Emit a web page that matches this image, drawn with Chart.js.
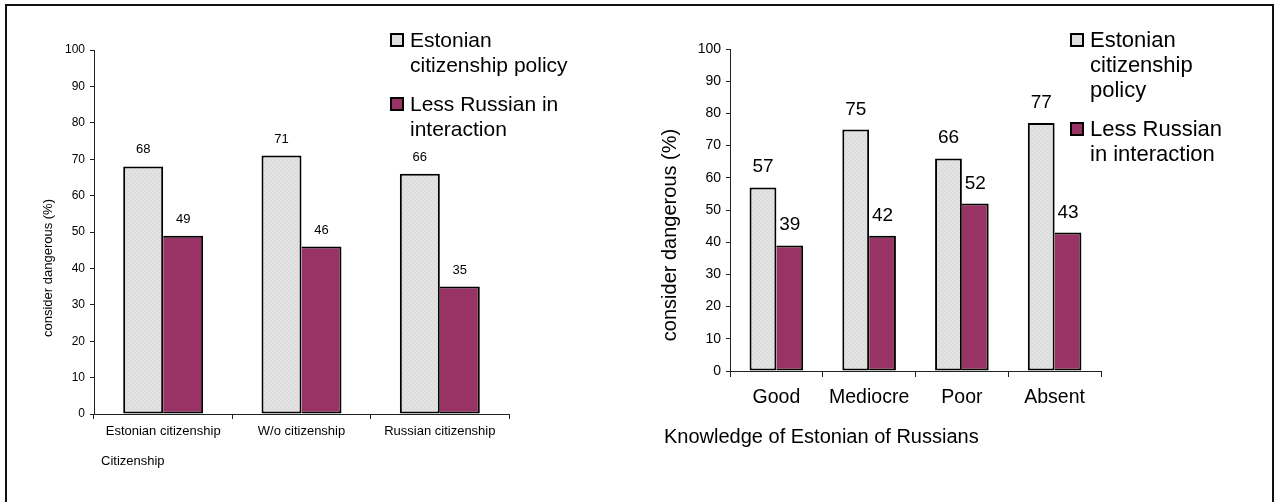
<!DOCTYPE html>
<html>
<head>
<meta charset="utf-8">
<script src="https://cdn.jsdelivr.net/npm/chart.js@4"></script>
<style>
  body { margin: 0; background: #fff; width: 1279px; height: 502px; overflow: hidden; position: relative; }
  #frame { position: absolute; left: 5px; top: 4px; width: 1265px; height: 520px; border: 2px solid #111; }
  canvas { position: absolute; top: 0; }
  #citizenship { left: 0; }
  #knowledge { left: 640px; }
</style>
</head>
<body>
<div id="frame"></div>
<canvas id="citizenship" width="640" height="502"></canvas>
<canvas id="knowledge" width="639" height="502"></canvas>
<script>
const seriesNames = ['Estonian citizenship policy', 'Less Russian in interaction'];

const citizenshipLabels = ['Estonian citizenship', 'W/o citizenship', 'Russian citizenship'];
const citizenshipPolicy = [68, 71, 66];
const citizenshipLessRussian = [49, 46, 35];

const knowledgeLabels = ['Good', 'Mediocre', 'Poor', 'Absent'];
const knowledgePolicy = [57, 75, 66, 77];
const knowledgeLessRussian = [39, 42, 52, 43];

const yMin = 0, yMax = 100, yStep = 10;

const FONT = '"Liberation Sans", Arial, sans-serif';
const PLUM = '#993366';

// light grey fill with a faint diagonal texture
function greyTexture() {
  const c = document.createElement('canvas');
  c.width = 4; c.height = 4;
  const g = c.getContext('2d');
  g.fillStyle = '#e3e3e3';
  g.fillRect(0, 0, 4, 4);
  g.fillStyle = '#d7d7d7';
  for (let i = 0; i < 4; i++) g.fillRect(i, 3 - i, 1, 1);
  return g.createPattern(c, 'repeat');
}
const greyFill = greyTexture();

function wrapText(ctx, text, maxWidth) {
  const lines = [];
  let line = '';
  text.split(' ').forEach(w => {
    const test = line ? line + ' ' + w : w;
    if (line && ctx.measureText(test).width > maxWidth) {
      lines.push(line);
      line = w;
    } else {
      line = test;
    }
  });
  if (line) lines.push(line);
  return lines;
}

// value labels, axis titles and the legend
const extras = {
  id: 'extras',
  afterDatasetsDraw(chart, args, o) {
    const ctx = chart.ctx;
    ctx.save();
    ctx.fillStyle = '#000';

    ctx.font = o.valueSize + 'px ' + FONT;
    ctx.textAlign = 'center';
    ctx.textBaseline = 'alphabetic';
    chart.data.datasets.forEach((ds, i) => {
      chart.getDatasetMeta(i).data.forEach((bar, j) => {
        ctx.fillText(String(ds.data[j]), bar.x, bar.y - o.valueGap);
      });
    });

    ctx.font = o.titleSize + 'px ' + FONT;
    ctx.save();
    ctx.translate(o.yTitleX, o.yTitleY);
    ctx.rotate(-Math.PI / 2);
    ctx.textBaseline = 'middle';
    ctx.fillText(o.yTitle, 0, 0);
    ctx.restore();

    ctx.textAlign = 'left';
    ctx.font = o.xTitleSize + 'px ' + FONT;
    ctx.fillText(o.xTitle, o.xTitleX, o.xTitleY);

    ctx.font = o.legendSize + 'px ' + FONT;
    let y = o.legendY;
    chart.data.datasets.forEach(ds => {
      const lines = wrapText(ctx, ds.label, o.legendWidth);
      ctx.fillStyle = ds.backgroundColor;
      ctx.fillRect(o.legendX + 1, y - 13, 12, 12);
      ctx.strokeStyle = '#000';
      ctx.lineWidth = 2;
      ctx.strokeRect(o.legendX + 1, y - 13, 12, 12);
      ctx.fillStyle = '#000';
      lines.forEach((l, k) => ctx.fillText(l, o.legendX + 20, y + k * o.legendLine));
      y += lines.length * o.legendLine + o.legendGap;
    });
    ctx.restore();
  }
};

function datasets(policy, lessRussian) {
  return [
    {
      label: seriesNames[0], data: policy,
      backgroundColor: greyFill, borderColor: '#000',
      borderWidth: { top: 2, left: 2, bottom: 2, right: 2 }, borderSkipped: false
    },
    {
      label: seriesNames[1], data: lessRussian,
      backgroundColor: PLUM, borderColor: '#000',
      borderWidth: { top: 2, left: 0, bottom: 2, right: 2 }, borderSkipped: false
    }
  ];
}

function makeChart(id, labels, policy, lessRussian, L) {
  return new Chart(document.getElementById(id), {
    type: 'bar',
    data: { labels: labels, datasets: datasets(policy, lessRussian) },
    plugins: [extras],
    options: {
      responsive: false,
      animation: false,
      layout: { padding: { left: 0, top: L.top, right: L.right, bottom: 0 } },
      datasets: { bar: { categoryPercentage: 0.578, barPercentage: 1 } },
      plugins: {
        legend: { display: false },
        tooltip: { enabled: false },
        extras: L.extras
      },
      scales: {
        x: {
          grid: { drawOnChartArea: false, tickLength: L.xTick, color: '#222' },
          border: { color: '#222' },
          ticks: { color: '#000', font: { family: FONT, size: L.xFont }, padding: L.xPad, maxRotation: 0 },
          afterFit: s => { s.height = L.xHeight; }
        },
        y: {
          min: yMin, max: yMax,
          grid: { drawOnChartArea: false, tickLength: 4, color: '#222' },
          border: { color: '#222' },
          ticks: { stepSize: yStep, color: '#000', font: { family: FONT, size: L.yFont }, padding: 5 },
          afterFit: s => { s.width = L.yWidth; }
        }
      }
    }
  });
}

makeChart('citizenship', citizenshipLabels, citizenshipPolicy, citizenshipLessRussian, {
  top: 50, right: 131, yWidth: 94, xHeight: 88,
  xTick: 5, xPad: 5, xFont: 13, yFont: 12,
  extras: {
    valueSize: 13, valueGap: 13,
    titleSize: 13, yTitle: 'consider dangerous (%)', yTitleX: 48, yTitleY: 268,
    xTitleSize: 13, xTitle: 'Citizenship', xTitleX: 101, xTitleY: 465,
    legendSize: 21, legendX: 390, legendY: 47, legendWidth: 172, legendLine: 25, legendGap: 14
  }
});

makeChart('knowledge', knowledgeLabels, knowledgePolicy, knowledgeLessRussian, {
  top: 49, right: 178, yWidth: 90, xHeight: 131,
  xTick: 6, xPad: 9, xFont: 19.5, yFont: 14,
  extras: {
    valueSize: 19, valueGap: 15,
    titleSize: 20, yTitle: 'consider dangerous (%)', yTitleX: 30, yTitleY: 235,
    xTitleSize: 20, xTitle: 'Knowledge of Estonian of Russians', xTitleX: 24, xTitleY: 443,
    legendSize: 22, legendX: 430, legendY: 47, legendWidth: 140, legendLine: 25, legendGap: 14
  }
});
</script>
</body>
</html>
